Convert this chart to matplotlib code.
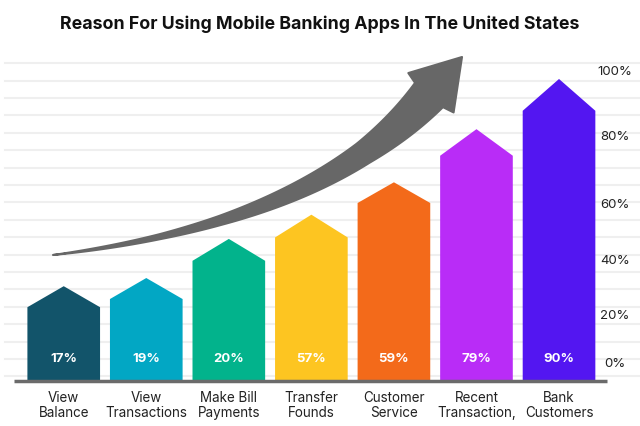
import numpy as np
import matplotlib
matplotlib.use('Agg')
import matplotlib.pyplot as plt
from matplotlib.patches import Polygon
from matplotlib.transforms import Affine2D, blended_transform_factory

plt.rcParams['font.family'] = ['Inter', 'DejaVu Sans']

# 数据
categories = ['View\nBalance', 'View\nTransactions', 'Make Bill\nPayments', 'Transfer\nFounds',
              'Customer\nService', 'Recent\nTransaction,', 'Bank\nCustomers']
labels = ['17%', '19%', '20%', '57%', '59%', '79%', '90%']
shoulder = [19.1, 21.9, 35.0, 43.0, 54.8, 71.0, 86.4]   # 柱子肩部高度
peak = [26.3, 29.1, 42.5, 50.8, 61.9, 80.1, 97.3]       # 柱子尖顶高度
colors = ['#12546a', '#02a7c4', '#02b38c', '#fdc521', '#f36a1a', '#b92cf7', '#5316f1']
tick_pos = [0, 16.5, 35.3, 54.4, 77.7, 100]
tick_labels = ['0%', '20%', '40%', '60%', '80%', '100%']

fig = plt.figure(figsize=(6.4, 4.27), dpi=100)
ax = fig.add_axes([0, 0, 1, 1])
ax.set_xlim(-0.772, 6.981)
ax.set_ylim(-21.6, 124.7)
ax.axis('off')

# 背景横线
for g in np.arange(-4.6, 104, 5.96):
    ax.axhline(g, xmin=0.008, xmax=1, color='#efefef', lw=1.5, zorder=0)

# 箭头形柱子
w = 0.44
bottom = -6.0
for i in range(len(categories)):
    pts = [(i - w, bottom), (i - w, shoulder[i]), (i, peak[i]), (i + w, shoulder[i]), (i + w, bottom)]
    ax.add_patch(Polygon(pts, closed=True, facecolor=colors[i], lw=0, zorder=2))
    ax.text(i, 1.6, labels[i], color='white', fontsize=9.5, fontweight='bold',
            ha='center', va='center', zorder=3)
    ax.text(i, -14.2, categories[i], color='#222222', fontsize=9.7, ha='center', va='center',
            linespacing=1.15)

# 底线
ax.plot([-0.602, 6.582], [-6.3, -6.3], color='#6b6b6b', lw=2.5, solid_capstyle='butt', zorder=4)

# 右侧刻度
trans = blended_transform_factory(ax.transAxes, ax.transData)
for p, lab in zip(tick_pos, tick_labels):
    ax.text(615 / 640, p, lab, transform=trans, ha='center', va='center', fontsize=9.5, color='#222222')

# 标题
fig.text(0.499, 1 - 24 / 427, 'Reason For Using Mobile Banking Apps In The United States',
         ha='center', va='center', fontsize=12.8, fontweight='bold', color='#111111')

# 弯曲的灰色箭头（像素坐标，原点左上角）
pix = Affine2D().scale(1 / 640, -1 / 427).translate(0, 1) + fig.transFigure
P = np.array([[53, 256], [235, 234], [358, 177.5], [429, 96]], dtype=float)
tip = np.array([462.0, 58.0])
t = np.linspace(0, 1, 120)[:, None]
B = (1 - t) ** 3 * P[0] + 3 * (1 - t) ** 2 * t * P[1] + 3 * (1 - t) * t ** 2 * P[2] + t ** 3 * P[3]
D = 3 * (1 - t) ** 2 * (P[1] - P[0]) + 6 * (1 - t) * t * (P[2] - P[1]) + 3 * t ** 2 * (P[3] - P[2])
D = D / np.linalg.norm(D, axis=1)[:, None]
N = np.column_stack([-D[:, 1], D[:, 0]])
s = np.concatenate([[0], np.cumsum(np.linalg.norm(np.diff(B, axis=0), axis=1))])
s = s / s[-1]
hw = np.interp(s, [0, 0.26, 0.41, 0.57, 0.79, 1], [0, 2.5, 4.6, 7.5, 11.5, 18.5])[:, None]
side1 = B + hw * N
side2 = B - hw * N
d, n = D[-1], N[-1]
head = [P[3] + 30 * n + 3 * d, tip, P[3] - 30 * n + 3 * d]
outline = np.vstack([side1, head, side2[::-1]])
ax.add_patch(Polygon(outline, closed=True, facecolor='#676767', edgecolor='#676767', lw=1.5,
                     joinstyle='round', transform=pix, zorder=5))

plt.savefig('out.png', dpi=100)
